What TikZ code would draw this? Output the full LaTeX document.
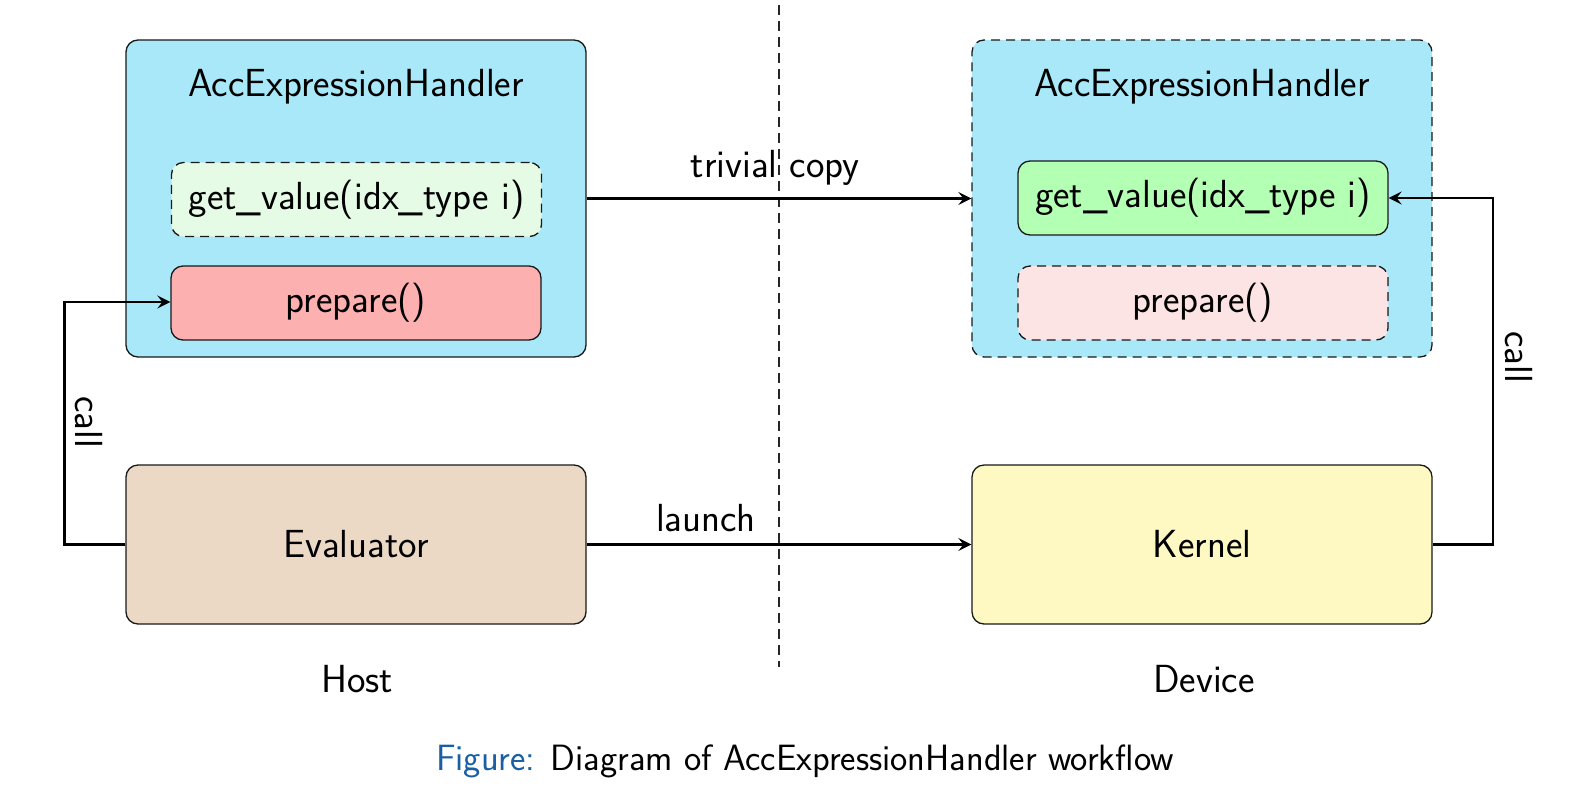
\documentclass[tikz,border=0pt]{standalone}
\usetikzlibrary{arrows.meta}
\renewcommand{\familydefault}{\sfdefault}
\definecolor{hbblue}{HTML}{A8E8F8}
\definecolor{gvlight}{HTML}{E6FBE6}
\definecolor{gvgreen}{HTML}{B3FFB3}
\definecolor{prred}{HTML}{FDB0B0}
\definecolor{prlight}{HTML}{FDE4E4}
\definecolor{evbrown}{HTML}{EBD9C6}
\definecolor{knyellow}{HTML}{FEF8C2}
\definecolor{figblue}{HTML}{1A5FA5}
\tikzset{
  box/.style={draw=black!90, line width=0.65pt, rounded corners=6pt, inner sep=0pt},
  dsh/.style={dash pattern=on 4.5pt off 3pt},
  outerbox/.style={box, minimum width=230pt, minimum height=158.5pt, fill=hbblue},
  funbox/.style={box, minimum width=185pt, minimum height=37pt},
  bigbox/.style={box, minimum width=230pt, minimum height=79.5pt},
  lbl/.style={font=\fontsize{19.6}{23}\selectfont, inner sep=0pt},
  conn/.style={line width=1.15pt, -{Stealth[length=6.5pt,width=6.5pt,inset=2.5pt]}},
}
\begin{document}
\begin{tikzpicture}[x=0.5pt,y=-0.5pt]
\useasboundingbox (0,0) rectangle (1577,787);
% divider
\coordinate (divtop) at (779,5);
\coordinate (divbot) at (779,667);
\draw[dash pattern=on 5pt off 3pt, line width=0.55pt, black!85] (divtop) -- (divbot);
% host handler
\node[outerbox] (hostH) at (356,198.5) {};
\node[lbl] (hostT) at (356,87) {AccExpressionHandler};
\node[funbox, fill=gvlight, dsh] (hostGV) at (356.5,199.5) {\fontsize{19.6}{23}\selectfont get\_value(idx\_type i)};
\node[funbox, fill=prred] (hostPR) at (356,303) {\fontsize{19.6}{23}\selectfont prepare()};
% device handler
\node[outerbox, dsh] (devH) at (1202,198.5) {};
\node[lbl] (devT) at (1202,87) {AccExpressionHandler};
\node[funbox, fill=gvgreen] (devGV) at (1203,198) {\fontsize{19.6}{23}\selectfont get\_value(idx\_type i)};
\node[funbox, fill=prlight, dsh] (devPR) at (1203,303) {\fontsize{19.6}{23}\selectfont prepare()};
% evaluator and kernel
\node[bigbox, fill=evbrown] (eval) at (356,544.5) {\fontsize{19.6}{23}\selectfont Evaluator};
\node[bigbox, fill=knyellow] (kern) at (1202,544.5) {\fontsize{19.6}{23}\selectfont Kernel};
% labels
\node[lbl] (host) at (357,679) {Host};
\node[lbl] (device) at (1204,679) {Device};
\node[font=\fontsize{18.3}{22}\selectfont, inner sep=0pt] (cap) at (805,761) {\textcolor{figblue}{Figure:} Diagram of AccExpressionHandler workflow};
% connectors
\draw[conn] (hostH.east) -- node[lbl, above=6pt, pos=0.49] (tc) {trivial copy} (devH.west);
\draw[conn] (eval.east) -- node[lbl, above=6pt, pos=0.31] (la) {launch} (kern.west);
\coordinate (lc1) at (64.5,544.5);
\coordinate (lc2) at (64.5,302);
\draw[conn] (eval.west) -- (lc1) -- (lc2) -- (hostPR.west |- lc2);
\node[lbl, rotate=-90] (callL) at (88.5,422) {call};
\coordinate (rc1) at (1493,544.5);
\coordinate (rc2) at (1493,198);
\draw[conn] (kern.east) -- (rc1) -- (rc2) -- (devGV.east);
\node[lbl, rotate=-90] (callR) at (1519,357) {call};
\end{tikzpicture}
\end{document}
